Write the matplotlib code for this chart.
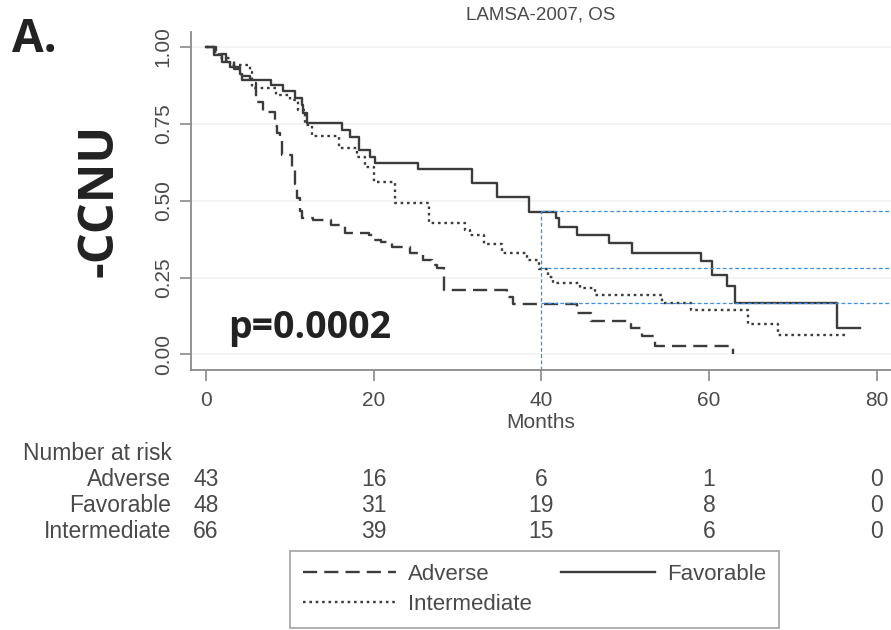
import numpy as np
import matplotlib
matplotlib.use('Agg')
import matplotlib.pyplot as plt

plt.rcParams['font.family'] = ['Liberation Sans', 'DejaVu Sans']

# ---- datos ----
t_adverse = [0, 1.2, 2.4, 3.3, 4.3, 5.3, 5.9, 6.8, 8.2, 8.5, 8.8, 9.1, 10.3, 10.6, 10.9, 11.2,
             11.4, 12.8, 14.9, 16.6, 19.4, 19.9, 20.9, 22.2, 24.3, 25.9, 27.0, 27.5, 28.4,
             35.9, 36.6, 44.3, 45.9, 50.7, 52.0, 53.6, 62.8]
s_adverse = [1.0, 0.977, 0.953, 0.930, 0.907, 0.884, 0.820, 0.790, 0.744, 0.721, 0.698, 0.648,
             0.600, 0.555, 0.510, 0.465, 0.443, 0.437, 0.421, 0.396, 0.388, 0.372, 0.366, 0.348,
             0.329, 0.307, 0.290, 0.280, 0.209, 0.187, 0.164, 0.136, 0.109, 0.085, 0.060, 0.028, 0.0]

t_favorable = [0, 0.9, 1.9, 2.9, 4.1, 4.3, 7.8, 9.2, 10.6, 11.4, 11.6, 12.0, 16.2, 17.2, 18.2,
               19.6, 20.2, 25.3, 31.7, 34.7, 38.5, 41.8, 42.1, 44.2, 48.1, 50.8, 59.0, 60.3,
               62.1, 63.1, 75.2, 78.0]
s_favorable = [1.0, 0.974, 0.952, 0.936, 0.912, 0.893, 0.876, 0.858, 0.835, 0.811, 0.784, 0.752,
               0.730, 0.708, 0.665, 0.643, 0.624, 0.602, 0.558, 0.513, 0.464, 0.443, 0.415,
               0.388, 0.361, 0.331, 0.305, 0.258, 0.222, 0.168, 0.085, 0.085]

t_intermediate = [0, 0.9, 1.5, 2.9, 5.2, 5.5, 8.4, 10.0, 11.0, 11.8, 12.6, 15.8, 18.0, 19.0,
                  20.0, 22.5, 26.6, 30.9, 31.5, 33.1, 35.3, 38.3, 39.7, 40.8, 41.4, 44.6,
                  46.4, 54.4, 57.8, 64.6, 68.2, 76.5]
s_intermediate = [1.0, 0.985, 0.963, 0.941, 0.920, 0.866, 0.844, 0.828, 0.795, 0.746, 0.710,
                  0.670, 0.643, 0.610, 0.562, 0.491, 0.426, 0.405, 0.388, 0.359, 0.329, 0.307,
                  0.278, 0.253, 0.233, 0.215, 0.193, 0.168, 0.144, 0.099, 0.063, 0.063]

# lineas de referencia en el mes 40
ref_mes = 40
ref_niveles = [0.466, 0.280, 0.168]

# numero en riesgo
riesgo_tiempos = [0, 20, 40, 60, 80]
riesgo_grupos = ['Adverse', 'Favorable', 'Intermediate']
riesgo_adverse = [43, 16, 6, 1, 0]
riesgo_favorable = [48, 31, 19, 8, 0]
riesgo_intermediate = [66, 39, 15, 6, 0]

W, H = 891, 630
fig = plt.figure(figsize=(W / 100, H / 100), dpi=100)
fig.patch.set_facecolor('white')

ax_l, ax_r, ax_t, ax_b = 190.7, 891, 32.3, 370
ax = fig.add_axes([ax_l / W, 1 - ax_b / H, (ax_r - ax_l) / W, (ax_b - ax_t) / H])
xmin, xmax = -1.83, 81.7
ymin, ymax = -0.051, 1.048
ax.set_xlim(xmin, xmax)
ax.set_ylim(ymin, ymax)

gris = '#3c3c3c'
texto = '#4a4a4a'
for y in [0, 0.25, 0.5, 0.75, 1.0]:
    ax.axhline(y, color='#f1f1f1', lw=1.2, zorder=0)

ax.step(t_adverse, s_adverse, where='post', color=gris, lw=1.7, dashes=(6, 3), label='Adverse')
ax.step(t_intermediate, s_intermediate, where='post', color=gris, lw=1.7, dashes=(1.1, 1.6),
        label='Intermediate')
ax.step(t_favorable, s_favorable, where='post', color=gris, lw=1.7, label='Favorable')

azul = '#3b8fe0'
ax.vlines(ref_mes, ymin, max(ref_niveles), color=azul, lw=0.9, linestyles=(0, (3, 2)))
ax.hlines(ref_niveles, ref_mes, xmax, color=azul, lw=0.9, linestyles=(0, (3, 2)))

for lado in ['top', 'right']:
    ax.spines[lado].set_visible(False)
for lado in ['left', 'bottom']:
    ax.spines[lado].set_color('#8a8a8a')
    ax.spines[lado].set_linewidth(1.3)

ax.set_xticks(riesgo_tiempos)
ax.set_yticks([0, 0.25, 0.5, 0.75, 1.0])
ax.set_yticklabels(['0.00', '0.25', '0.50', '0.75', '1.00'], rotation=90, va='center')
ax.tick_params(axis='both', colors='#8a8a8a', labelcolor=texto, labelsize=15,
               length=8, width=1.2)
ax.tick_params(axis='x', pad=7)
ax.tick_params(axis='y', pad=5)
ax.set_xlabel('Months', fontsize=15, color=texto, labelpad=2)
ax.set_title('LAMSA-2007, OS', fontsize=13.5, color=texto, pad=9)

ax.text(2.6, 0.053, 'p=0.0002', fontsize=27, fontweight='bold', family='Open Sans',
        color='#222222')

fig.text(12 / W, 1 - 52 / H, 'A.', fontsize=33, fontweight='bold', family='Open Sans',
         color='#222222', va='baseline')
fig.text(100 / W, 1 - 200 / H, '-CCNU', fontsize=35, fontweight='bold', family='Open Sans',
         color='#222222', rotation=90, ha='center', va='center')

# tabla de numero en riesgo
trans = matplotlib.transforms.blended_transform_factory(ax.transData, fig.transFigure)
fig.text(172 / W, 1 - 454 / H, 'Number at risk', fontsize=16.5, color=texto, ha='right',
         va='center')
filas_y = [480, 506, 531]
for nombre, vals, py in zip(riesgo_grupos, [riesgo_adverse, riesgo_favorable, riesgo_intermediate], filas_y):
    fig.text(171 / W, 1 - py / H, nombre, fontsize=16.5, color=texto, ha='right', va='center')
    for t, v in zip(riesgo_tiempos, vals):
        ax.text(t, 1 - py / H, str(v), fontsize=16.5, color=texto, ha='center', va='center',
                transform=trans, clip_on=False)

# leyenda
handles, labels = ax.get_legend_handles_labels()
leg = fig.legend(handles, labels, ncol=2,
                 loc='upper left', bbox_to_anchor=(290 / W, 1 - 551 / H), borderaxespad=0,
                 fontsize=16, frameon=True, fancybox=False, handlelength=4.2,
                 handletextpad=0.55, columnspacing=1.3, borderpad=0.58, labelspacing=0.42)
leg.get_frame().set_edgecolor('#8a8a8a')
leg.get_frame().set_linewidth(1.2)
for txt in leg.get_texts():
    txt.set_color(texto)

fig.savefig('out.png', dpi=100)
